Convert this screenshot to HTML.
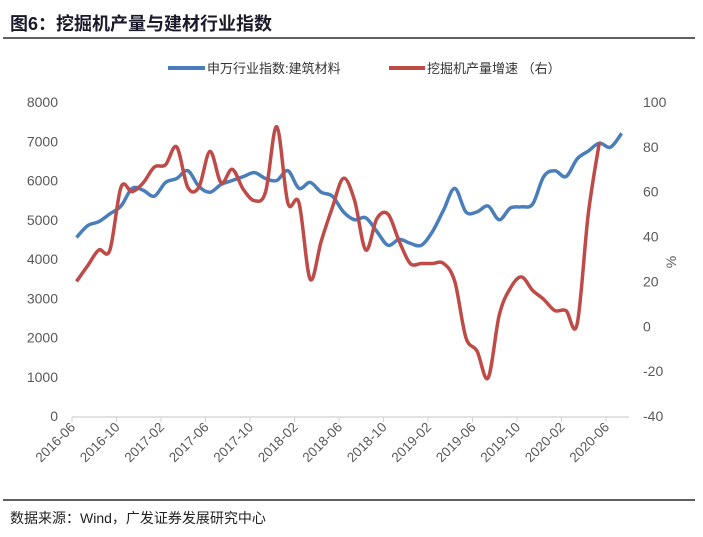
<!DOCTYPE html>
<html><head><meta charset="utf-8">
<style>
body{margin:0;background:#fff;}
svg{display:block;font-family:"Liberation Sans","Noto Sans CJK SC",sans-serif;}
</style></head><body>
<svg width="703" height="537">
<text x="10" y="30" font-size="18" font-weight="bold" fill="#1a1a2a">图6：挖掘机产量与建材行业指数</text>
<line x1="3" y1="38" x2="695" y2="38" stroke="#000" stroke-width="1.3"/>
<g>
<g><line x1="168" y1="68" x2="205" y2="68" stroke="#4a7ebb" stroke-width="4"/><text x="207" y="73" font-size="13" fill="#333">申万行业指数:建筑材料</text></g>
<g><line x1="389" y1="68" x2="425" y2="68" stroke="#be4b48" stroke-width="4"/><text x="427" y="73" font-size="13" fill="#333">挖掘机产量增速  （右）</text></g>
</g>
<g id="axes"></g>
<g id="plot"></g>
<line x1="3" y1="500" x2="695" y2="500" stroke="#000" stroke-width="1.3"/>
<text x="10" y="523" font-size="14" fill="#222">数据来源：Wind，广发证券发展研究中心</text>
</svg>
<script>
const xLabels=["2016-06","2016-10","2017-02","2017-06","2017-10","2018-02","2018-06","2018-10","2019-02","2019-06","2019-10","2020-02","2020-06"];
const leftTicks=[0,1000,2000,3000,4000,5000,6000,7000,8000];
const rightTicks=[-40,-20,0,20,40,60,80,100];
const indexSeries=[4550,4850,4950,5150,5350,5800,5750,5600,5950,6050,6250,5850,5700,5900,6000,6100,6200,6050,6000,6250,5800,5950,5700,5600,5200,5000,5050,4700,4350,4500,4400,4350,4700,5250,5800,5200,5200,5350,5000,5300,5330,5400,6100,6250,6100,6550,6750,6950,6850,7200];
const excavatorSeries=[20,27,34,34,62,60,64,71,72,80,62,62,78,64,70,61,56,60,89,55,55,21,38,53,66,56,34,48,50,38,28,28,28,28,20,-5,-11,-23,5,17,22,16,12,7,7,1,50,82];
const NS="http://www.w3.org/2000/svg";
const X0=72,DX=11.125,Y0=416,Y1=102,XOFF=4.5;
const xt=k=>X0+k*DX;
const xm=i=>X0+XOFF+i*DX;
const yl=v=>Y0-(v/8000)*(Y0-Y1);
const yr=v=>Y0-((v+40)/140)*(Y0-Y1);
function mk(tag,attrs,parent){const e=document.createElementNS(NS,tag);for(const k in attrs)e.setAttribute(k,attrs[k]);parent.appendChild(e);return e;}
const ax=document.getElementById('axes'),pl=document.getElementById('plot');
const base=mk('line',{x1:X0,y1:417,x2:629,y2:417,stroke:'#d0d0d0','stroke-width':1.3},ax);


xLabels.forEach((l,k)=>{const x=xt(k*4);
const t=mk('line',{x1:x,y1:417,x2:x,y2:422,stroke:'#d0d0d0','stroke-width':1},ax);


const tx=mk('text',{x:x+4,y:428,'font-size':13.5,fill:'#595959','text-anchor':'end',transform:`rotate(-45 ${x+4} 428)`},ax);tx.textContent=l;

});
leftTicks.forEach(v=>{const t=mk('text',{x:58,y:yl(v)+5,'font-size':14,fill:'#595959','text-anchor':'end'},ax);t.textContent=v;

});
rightTicks.forEach(v=>{const t=mk('text',{x:643,y:yr(v)+5,'font-size':14,fill:'#595959'},ax);t.textContent=v;

});
const pc=mk('text',{x:676,y:262,'font-size':14,fill:'#595959','text-anchor':'middle',transform:'rotate(-90 676 262)'},ax);pc.textContent='%';


function path(pts){let d=`M${pts[0][0]},${pts[0][1]}`;for(let i=0;i<pts.length-1;i++){const p0=pts[i-1]||pts[i],p1=pts[i],p2=pts[i+1],p3=pts[i+2]||p2;const t=6;
d+=` C${p1[0]+(p2[0]-p0[0])/t},${p1[1]+(p2[1]-p0[1])/t} ${p2[0]-(p3[0]-p1[0])/t},${p2[1]-(p3[1]-p1[1])/t} ${p2[0]},${p2[1]}`;}return d;}
const bl=mk('path',{d:path(indexSeries.map((v,i)=>[xm(i),yl(v)])),fill:'none',stroke:'#4a7ebb','stroke-width':3.5,'stroke-linejoin':'round'},pl);


const rl=mk('path',{d:path(excavatorSeries.map((v,i)=>[xm(i),yr(v)])),fill:'none',stroke:'#be4b48','stroke-width':3.5,'stroke-linejoin':'round'},pl);


</script>
</body></html>
